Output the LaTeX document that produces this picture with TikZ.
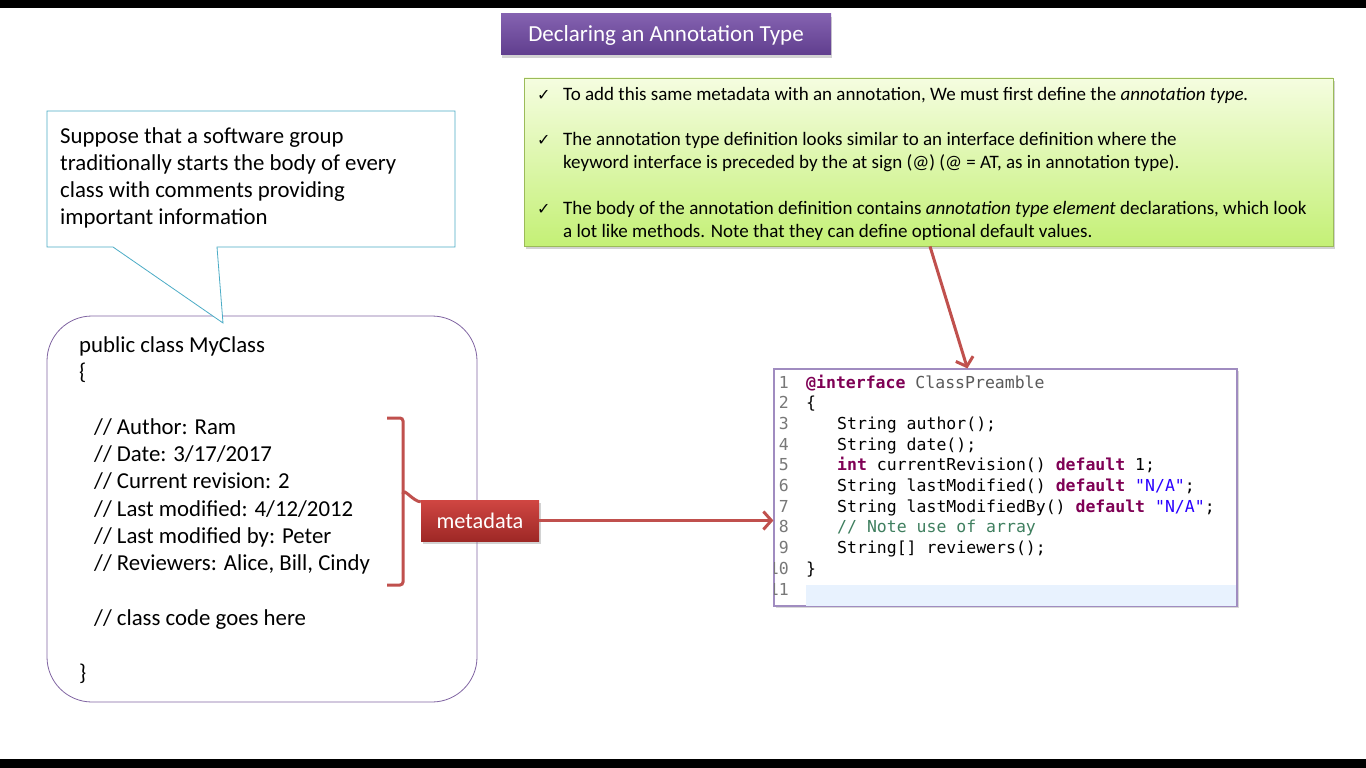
\documentclass[tikz,border=0pt]{standalone}
\usepackage{fontspec}
\setmainfont{Carlito}
\newfontfamily\codefont{DejaVu Sans Mono}
\newfontfamily\symfont{DejaVu Sans}
\usetikzlibrary{arrows.meta,shadows}
\definecolor{accred}{HTML}{C0504D}
\definecolor{kwcol}{HTML}{7F0055}
\definecolor{strcol}{HTML}{2A00FF}
\definecolor{cmcol}{HTML}{3F7F5F}
\definecolor{lncol}{HTML}{787878}
\definecolor{clsgray}{HTML}{5A5A5A}
\definecolor{hlblue}{HTML}{E8F2FE}
\definecolor{callcol}{HTML}{4BACC6}
\definecolor{boxpurple}{HTML}{8064A2}
\definecolor{titletop}{RGB}{132,98,176}
\definecolor{titlebot}{RGB}{96,62,142}
\definecolor{metatop}{RGB}{208,70,66}
\definecolor{metabot}{RGB}{158,40,38}
\definecolor{codeborder}{HTML}{A08CC0}
\definecolor{greenborder}{HTML}{9BBB59}
\newcommand{\kw}[1]{\textcolor{kwcol}{\bfseries #1}}
\newcommand{\strg}[1]{\textcolor{strcol}{#1}}
\begin{document}
\begin{tikzpicture}[x=1pt,y=-1pt,
  titlebox/.style={top color=titletop, bottom color=titlebot,
    draw=none, minimum width=330pt, minimum height=41pt, text=white,
    text height=17pt, text depth=2pt,
    font=\fontsize{23}{27}\selectfont,
    drop shadow={shadow xshift=1pt, shadow yshift=-3pt, opacity=0.35}},
  notebox/.style={top color={rgb,255:red,245;green,253;blue,224}, bottom color={rgb,255:red,196;green,240;blue,118},
    draw=greenborder, line width=0.8pt, minimum width=809pt, minimum height=168pt,
    drop shadow={shadow xshift=2pt, shadow yshift=-3pt, opacity=0.35}},
  notetext/.style={anchor=base west, inner sep=0pt, font=\fontsize{19}{22}\selectfont},
  checkmark/.style={anchor=base west, inner sep=0pt, font=\symfont\fontsize{16}{18}\selectfont},
  classtext/.style={anchor=base west, inner sep=0pt, font=\fontsize{22.8}{27}\selectfont},
  classbox/.style={draw=boxpurple, line width=0.8pt, fill=white, rounded corners=45pt,
    minimum width=430pt, minimum height=386pt},
  calloutline/.style={draw=callcol, line width=0.8pt, fill=white},
  metabox/.style={top color=metatop, bottom color=metabot, text=white,
    minimum width=118pt, minimum height=41pt, font=\fontsize{22.3}{26}\selectfont,
    drop shadow={shadow xshift=2pt, shadow yshift=-3pt, opacity=0.35}},
  bracket/.style={draw=accred, line width=3pt, rounded corners=3pt},
  redarrow/.style={draw=accred, line width=3pt, -{Straight Barb[length=8pt,width=18pt,line width=3pt]}},
  codebox/.style={draw=codeborder, line width=1.2pt, fill=white, minimum width=463pt, minimum height=237pt,
    drop shadow={shadow xshift=1.5pt, shadow yshift=-2pt, opacity=0.3}},
  lnum/.style={anchor=base east, inner sep=0pt, text=lncol, font=\codefont\fontsize{16.5}{20}\selectfont},
  codeline/.style={anchor=base west, inner sep=0pt, font=\codefont\fontsize{16.5}{20}\selectfont}
]
\useasboundingbox (0,0) rectangle (1366,768);
\fill[white] (0,0) rectangle (1366,768);
\fill[black] (0,0) rectangle (1366,8);
\fill[black] (0,759) rectangle (1366,768);

% title
\node[titlebox] (title) at (666,34.5) {Declaring an Annotation Type};

% notes box
\node[notebox] (notes) at (928.5,162) {};
\foreach \y/\n in {100/1,145/2,214/3}
  \node[checkmark] (chk\n) at (537,\y) {✓};
\node[notetext] (n1) at (563,100) {To add this same metadata with an annotation, We must first define the \textit{annotation type.}};
\node[notetext] (n2) at (563,145) {The annotation type definition looks similar to an interface definition where the};
\node[notetext] (n3) at (563,168) {keyword interface is preceded by the at sign (@) (@ = AT, as in annotation type).};
\node[notetext] (n4) at (563,214) {The body of the annotation definition contains \textit{annotation type element} declarations, which look};
\node[notetext] (n5) at (563,237) {a lot like methods. Note that they can define optional default values.};

% class box
\node[classbox] (cls) at (262,509) {};

% callout
\path[calloutline] (47,111) -- (455,111) -- (455,247) -- (217,247) -- (223,323) -- (113,247) -- (47,247) -- cycle;
\foreach \t [count=\i] in {{Suppose that a software group},{traditionally starts the body of every},{class with comments providing},{important information}}
  \node[classtext] (call\i) at (60,116+27*\i) {\t};

% class text
\node[classtext] (c1) at (79,352) {public class MyClass};
\node[classtext] (c2) at (79,379.5) {\{};
\foreach \t [count=\i] in {{// Author: Ram},{// Date: 3/17/2017},{// Current revision: 2},{// Last modified: 4/12/2012},{// Last modified by: Peter},{// Reviewers: Alice, Bill, Cindy}}
  \node[classtext] (m\i) at (94,407+27.3*\i) {\t};
\node[classtext] (c3) at (94,625) {// class code goes here};
\node[classtext] (c4) at (79,680) {\}};

% metadata
\node[metabox] (meta) at (480,520.5) {metadata};
\draw[bracket] (387,418) -- (403,418) -- (403,585) -- (387,585);
\draw[bracket] (403,494) to[out=90,in=180] ([yshift=-2pt]meta.north west);

% code box
\node[codebox] (code) at (1005.5,487.5) {};
\fill[hlblue] (806,585) rectangle (1236,605.5);
\begin{scope}
\clip (774,369) rectangle (1237,606);
\foreach \i in {1,...,11}
  \node[lnum] (ln\i) at (789,367.3+20.7*\i) {\i};
\end{scope}
\node[codeline] (k1) at (806,388) {\kw{@interface} \textcolor{clsgray}{ClassPreamble}};
\node[codeline] (k2) at (806,408.7) {\{};
\node[codeline] (k3) at (837,429.4) {String author();};
\node[codeline] (k4) at (837,450.1) {String date();};
\node[codeline] (k5) at (837,470.8) {\kw{int} currentRevision() \kw{default} 1;};
\node[codeline] (k6) at (837,491.5) {String lastModified() \kw{default} \strg{"N/A"};};
\node[codeline] (k7) at (837,512.2) {String lastModifiedBy() \kw{default} \strg{"N/A"};};
\node[codeline] (k8) at (837,532.9) {\textcolor{cmcol}{// Note use of array}};
\node[codeline] (k9) at (837,553.6) {String[] reviewers();};
\node[codeline] (k10) at (806,574.3) {\}};

% arrows
\draw[redarrow] (meta.east) -- (meta.east -| code.west);
\draw[redarrow] ([xshift=1.5pt]notes.south) -- ([xshift=194pt]code.north west);
\end{tikzpicture}
\end{document}
